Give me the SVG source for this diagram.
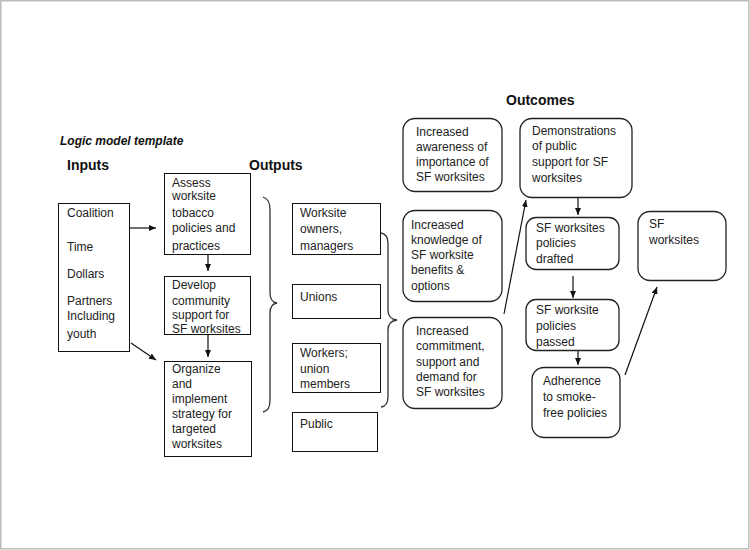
<svg xmlns="http://www.w3.org/2000/svg" width="750" height="550" viewBox="0 0 750 550">
<defs>
<marker id="ah" markerWidth="7" markerHeight="6" refX="7" refY="3" orient="auto" markerUnits="userSpaceOnUse">
<path d="M0,0 L7,3 L0,6 Z" fill="#111"/>
</marker>
<style>
text{font-family:"Liberation Sans",Arial,sans-serif;font-size:12px;fill:#222}
.h{font-weight:bold;font-size:14px;fill:#111}
.t{font-weight:bold;font-style:italic;font-size:12px;fill:#111}
.b{fill:#fff;stroke:#111;stroke-width:1}
.r{fill:#fff;stroke:#222;stroke-width:1.3}
.c{fill:none;stroke:#111;stroke-width:1.2}
.br{fill:none;stroke:#333;stroke-width:1.3}
</style>
</defs>
<rect x="0" y="0" width="750" height="550" fill="#fff"/>
<rect x="0.75" y="0.75" width="748" height="548" fill="none" stroke="#bcbcbc" stroke-width="1.5"/>

<text class="t" x="60" y="145">Logic model template</text>
<text class="h" x="67" y="170">Inputs</text>
<text class="h" x="249" y="170">Outputs</text>
<text class="h" x="506" y="105">Outcomes</text>

<g id="inputs">
<rect class="b" x="58.5" y="203.5" width="71" height="148"/>
<text x="67" y="217">Coalition</text>
<text x="67" y="251">Time</text>
<text x="67" y="278">Dollars</text>
<text x="67" y="305">Partners</text>
<text x="67" y="320">Including</text>
<text x="67" y="338">youth</text>
</g>

<g id="assess">
<rect class="b" x="164.5" y="173.5" width="86" height="81"/>
<text x="172" y="187">Assess</text>
<text x="172" y="200">worksite</text>
<text x="172" y="217">tobacco</text>
<text x="172" y="232">policies and</text>
<text x="172" y="250">practices</text>
</g>

<g id="develop">
<rect class="b" x="164.5" y="276.5" width="86" height="58"/>
<text x="172" y="289">Develop</text>
<text x="172" y="305">community</text>
<text x="172" y="319">support for</text>
<text x="172" y="333">SF worksites</text>
</g>

<g id="organize">
<rect class="b" x="164.5" y="361.5" width="87" height="95"/>
<text x="172" y="373">Organize</text>
<text x="172" y="388">and</text>
<text x="172" y="403">implement</text>
<text x="172" y="418">strategy for</text>
<text x="172" y="433">targeted</text>
<text x="172" y="448">worksites</text>
</g>

<g id="owners">
<rect class="b" x="292.5" y="203.5" width="88" height="51"/>
<text x="300" y="217">Worksite</text>
<text x="300" y="233">owners,</text>
<text x="300" y="250">managers</text>
</g>

<g id="unions">
<rect class="b" x="292.5" y="284.5" width="88" height="34"/>
<text x="300" y="301">Unions</text>
</g>

<g id="workers">
<rect class="b" x="292.5" y="343.5" width="88" height="49"/>
<text x="300" y="357">Workers;</text>
<text x="300" y="373">union</text>
<text x="300" y="388">members</text>
</g>

<g id="public">
<rect class="b" x="292.5" y="412.5" width="85" height="39"/>
<text x="300" y="428">Public</text>
</g>

<g id="awareness">
<rect class="r" x="403" y="118.5" width="99" height="73" rx="12"/>
<text x="416" y="136">Increased</text>
<text x="416" y="151">awareness of</text>
<text x="416" y="166">importance of</text>
<text x="416" y="181">SF worksites</text>
</g>

<g id="knowledge">
<rect class="r" x="403" y="210.5" width="99" height="91" rx="12"/>
<text x="411" y="229">Increased</text>
<text x="411" y="244">knowledge of</text>
<text x="411" y="259">SF worksite</text>
<text x="411" y="274">benefits &amp;</text>
<text x="411" y="290">options</text>
</g>

<g id="commitment">
<rect class="r" x="403" y="317.5" width="99" height="91" rx="12"/>
<text x="416" y="335">Increased</text>
<text x="416" y="350">commitment,</text>
<text x="416" y="366">support and</text>
<text x="416" y="381">demand for</text>
<text x="416" y="396">SF worksites</text>
</g>

<g id="demonstrations">
<rect class="r" x="520" y="118.5" width="112" height="79" rx="12"/>
<text x="532" y="135">Demonstrations</text>
<text x="532" y="150">of public</text>
<text x="532" y="166">support for SF</text>
<text x="532" y="182">worksites</text>
</g>

<g id="drafted">
<rect class="r" x="526" y="217.5" width="93" height="52" rx="10"/>
<text x="536" y="232">SF worksites</text>
<text x="536" y="247">policies</text>
<text x="536" y="263">drafted</text>
</g>

<g id="passed">
<rect class="r" x="526" y="299.5" width="93" height="51" rx="10"/>
<text x="536" y="314">SF worksite</text>
<text x="536" y="330">policies</text>
<text x="536" y="346">passed</text>
</g>

<g id="adherence">
<rect class="r" x="532" y="367.5" width="88" height="70" rx="12"/>
<text x="543" y="385">Adherence</text>
<text x="543" y="401">to smoke-</text>
<text x="543" y="417">free policies</text>
</g>

<g id="sfworksites">
<rect class="r" x="638" y="211.5" width="88" height="69" rx="12"/>
<text x="649" y="228">SF</text>
<text x="649" y="244">worksites</text>
</g>

<g id="connectors">
<line class="c" x1="130" y1="228" x2="156" y2="228" marker-end="url(#ah)"/>
<line class="c" x1="131" y1="343" x2="156" y2="360" marker-end="url(#ah)"/>
<line class="c" x1="208" y1="255" x2="208" y2="271" marker-end="url(#ah)"/>
<line class="c" x1="208" y1="335" x2="208" y2="357" marker-end="url(#ah)"/>
<path class="br" d="M263,197 Q270,199 270,210 L270,293 Q270,302 277,303 Q270,304 270,313 L270,400 Q270,411 263,412"/>
<path class="br" d="M381,233 Q388,234 388,244 L388,310 Q388,319 397,320 Q388,321 388,330 L388,397 Q388,406 381,407"/>
<line class="c" x1="504" y1="314" x2="526" y2="200" marker-end="url(#ah)"/>
<line class="c" x1="578" y1="198" x2="578" y2="215" marker-end="url(#ah)"/>
<line class="c" x1="573" y1="276" x2="573" y2="298" marker-end="url(#ah)"/>
<line class="c" x1="578" y1="351" x2="578" y2="365" marker-end="url(#ah)"/>
<line class="c" x1="625" y1="375" x2="657" y2="287" marker-end="url(#ah)"/>
</g>
</svg>
